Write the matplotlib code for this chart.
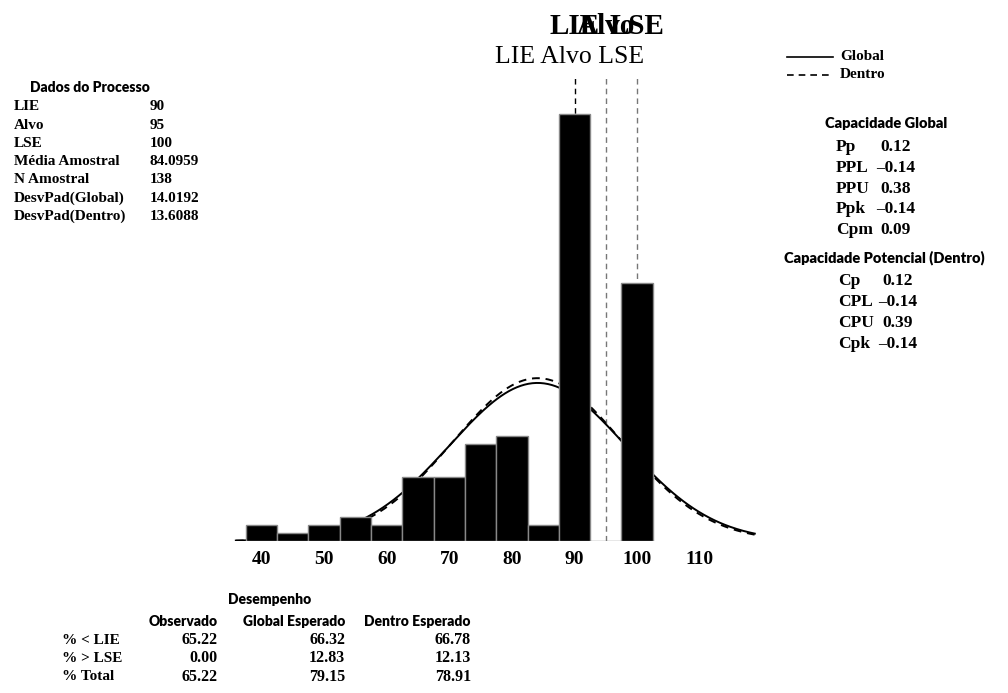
import numpy as np
import matplotlib
matplotlib.use('Agg')
import matplotlib.pyplot as plt

# ======================================
# Data
# ======================================

lie, alvo, lse = 90, 95, 100
media = 84.0959
n_amostral = 138
dp_global = 14.0192
dp_dentro = 13.6088

bin_width = 5
bin_centers = [40, 45, 50, 55, 60, 65, 70, 75, 80, 85, 90, 95, 100]
counts = [2, 1, 2, 3, 2, 8, 8, 12, 13, 2, 53, 0, 32]
tick_values = [40, 50, 60, 70, 80, 90, 100, 110]

dados_labels = ['LIE', 'Alvo', 'LSE', 'Média Amostral', 'N Amostral',
                'DesvPad(Global)', 'DesvPad(Dentro)']
dados_values = ['90', '95', '100', '84.0959', '138', '14.0192', '13.6088']

cap_global_labels = ['Pp', 'PPL', 'PPU', 'Ppk', 'Cpm']
cap_global_values = ['0.12', '–0.14', '0.38', '–0.14', '0.09']

cap_dentro_labels = ['Cp', 'CPL', 'CPU', 'Cpk']
cap_dentro_values = ['0.12', '–0.14', '0.39', '–0.14']

desemp_rows = ['% < LIE', '% > LSE', '% Total']
desemp_cols = ['Observado', 'Global Esperado', 'Dentro Esperado']
observado = ['65.22', '0.00', '65.22']
global_esperado = ['66.32', '12.83', '79.15']
dentro_esperado = ['66.78', '12.13', '78.91']

# ======================================
# Figure setup
# ======================================

W, H = 1008, 693
fig = plt.figure(figsize=(W / 100, H / 100), dpi=100)

SERIF = ['Liberation Serif', 'DejaVu Serif']
SANS = ['Lato', 'DejaVu Sans']


def px(x, y):
    # pixel coords (top-left origin) -> figure fraction
    return x / W, 1 - y / H


def ftext(x, y, s, size=11, family=SERIF, ha='left', weight='bold'):
    fx, fy = px(x, y)
    fig.text(fx, fy, s, fontsize=size, family=family, ha=ha, va='center',
             weight=weight)


# axes: baseline at y=541px, x=40 at 261.5px, 6.26 px per unit, 8.05 px per count
ax_left, ax_right, ax_top, ax_bottom = 230, 760, 60, 541
ax = fig.add_axes([ax_left / W, 1 - ax_bottom / H,
                   (ax_right - ax_left) / W, (ax_bottom - ax_top) / H])
x_per_px = 1 / 6.26
ax.set_xlim(40 - (261.5 - ax_left) * x_per_px, 40 + (ax_right - 261.5) * x_per_px)
ax.set_ylim(0, (ax_bottom - ax_top) / 8.05)

# ======================================
# Histogram + normal curves
# ======================================

ax.bar(bin_centers, counts, width=bin_width, color='black',
       edgecolor='#888888', linewidth=1, zorder=3)

xs = np.linspace(35.9, 118.8, 400)
scale = n_amostral * bin_width
y_global = scale * np.exp(-0.5 * ((xs - media) / dp_global) ** 2) / (dp_global * np.sqrt(2 * np.pi))
y_dentro = scale * np.exp(-0.5 * ((xs - media) / dp_dentro) ** 2) / (dp_dentro * np.sqrt(2 * np.pi))
ax.plot(xs, y_global, color='black', lw=1.4, zorder=2)
ax.plot(xs, y_dentro, color='black', lw=1.4, ls=(0, (4, 3)), zorder=2)

# spec lines
line_top = (ax_bottom - 76) / 8.05
ax.plot([lie, lie], [0, line_top], color='black', lw=1, ls=(0, (4, 3)), zorder=1)
ax.plot([alvo, alvo], [0, line_top], color='#777777', lw=1, ls=(0, (4, 3)), zorder=1)
ax.plot([lse, lse], [0, line_top], color='#777777', lw=1, ls=(0, (4, 3)), zorder=1)

ax.set_xticks(tick_values)
ax.set_xticklabels([str(t) for t in tick_values], family=SERIF,
                   weight='bold', fontsize=14)
ax.tick_params(axis='x', length=0, pad=7)
ax.set_yticks([])
for sp in ax.spines.values():
    sp.set_visible(False)

# overlapping bold labels above the spec lines (as in the reference)
label_y = (ax_bottom - 26) / (ax_bottom - ax_top)
for val, name in zip([lie, alvo, lse], ['LIE', 'Alvo', 'LSE']):
    ax.text(val, label_y, name, transform=ax.get_xaxis_transform(), ha='center',
            va='center', family=SERIF, weight='bold', fontsize=21)
ftext(570, 57, 'LIE Alvo LSE', size=18.5, ha='center', weight='normal')

# ======================================
# Left: Dados do Processo
# ======================================

ftext(90, 88, 'Dados do Processo', size=10, family=SANS, ha='center', weight='heavy')
for i, (lab, val) in enumerate(zip(dados_labels, dados_values)):
    y = 107 + i * 18.2
    ftext(14, y, lab, size=11)
    ftext(150, y, val, size=11)

# ======================================
# Right: legend + capability
# ======================================

for y, ls, lab in [(57, '-', 'Global'), (75, (0, (4, 3)), 'Dentro')]:
    x0, y0 = px(787, y)
    x1, _ = px(833, y)
    fig.add_artist(plt.Line2D([x0, x1], [y0, y0], color='black', lw=1.2, ls=ls))
    ftext(840, y, lab, size=11)

ftext(886, 124, 'Capacidade Global', size=10.5, family=SANS, ha='center', weight='heavy')
for i, (lab, val) in enumerate(zip(cap_global_labels, cap_global_values)):
    y = 147 + i * 20.8
    ftext(836, y, lab, size=12.5)
    ftext(896, y, val, size=12.5, ha='center')

ftext(884, 258, 'Capacidade Potencial (Dentro)', size=10.5, family=SANS, ha='center',
      weight='heavy')
for i, (lab, val) in enumerate(zip(cap_dentro_labels, cap_dentro_values)):
    y = 281 + i * 21
    ftext(838, y, lab, size=12.5)
    ftext(898, y, val, size=12.5, ha='center')

# ======================================
# Bottom: Desempenho
# ======================================

ftext(270, 600, 'Desempenho', size=10, family=SANS, ha='center', weight='heavy')
col_right = [218, 345, 471]
for xr, col in zip(col_right, desemp_cols):
    ftext(xr, 621, col, size=10, family=SANS, ha='right', weight='heavy')
for i, lab in enumerate(desemp_rows):
    y = 640 + i * 18.5
    ftext(62, y, lab, size=11)
    for xr, vals in zip(col_right, [observado, global_esperado, dentro_esperado]):
        ftext(xr, y, vals[i], size=11.5, ha='right')

fig.savefig('out.png', dpi=100)
